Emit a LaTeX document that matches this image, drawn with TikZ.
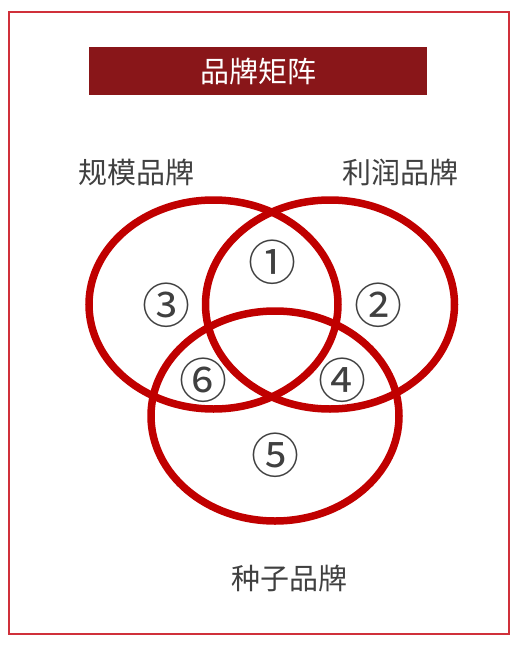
\documentclass[tikz,border=0pt]{standalone}
\usepackage{fontspec}
\newfontfamily\cjk{Noto Sans CJK SC}
\definecolor{ringred}{HTML}{C00000}
\definecolor{framered}{HTML}{D0303A}
\definecolor{titlered}{HTML}{891619}
\definecolor{labelgray}{HTML}{404040}
\begin{document}
\begin{tikzpicture}[x=1pt,y=-1pt,
  ring/.style={draw=ringred,line width=7.5pt},
  lbl/.style={font=\cjk\fontsize{29}{33}\selectfont,text=labelgray,inner sep=0pt},
  num/.style={font=\cjk\fontsize{48}{52}\selectfont,text=labelgray,inner sep=0pt}]
\useasboundingbox (0,0) rectangle (522,650);
\draw[framered,line width=1.2pt] (9,12) rectangle (509,634);
\node[fill=titlered,minimum width=338pt,minimum height=48pt,inner sep=0pt,
  font=\cjk\fontsize{29}{33}\selectfont,text=white] (title) at (258,71) {品牌矩阵};
\draw[ring] (213.5,304.5) ellipse [x radius=124.5, y radius=104.5];
\draw[ring] (330,304.5) ellipse [x radius=124.5, y radius=104.5];
\draw[ring] (275,416) ellipse [x radius=124, y radius=105];
\node[lbl] (scale) at (136,172) {规模品牌};
\node[lbl] (profit) at (400,172) {利润品牌};
\node[lbl] (seed) at (289,578) {种子品牌};
\node[num] (n1) at (272,262) {①};
\node[num] (n2) at (378,305) {②};
\node[num] (n3) at (166,305) {③};
\node[num] (n4) at (342,380) {④};
\node[num] (n5) at (275,455) {⑤};
\node[num] (n6) at (203,380) {⑥};
\end{tikzpicture}
\end{document}
